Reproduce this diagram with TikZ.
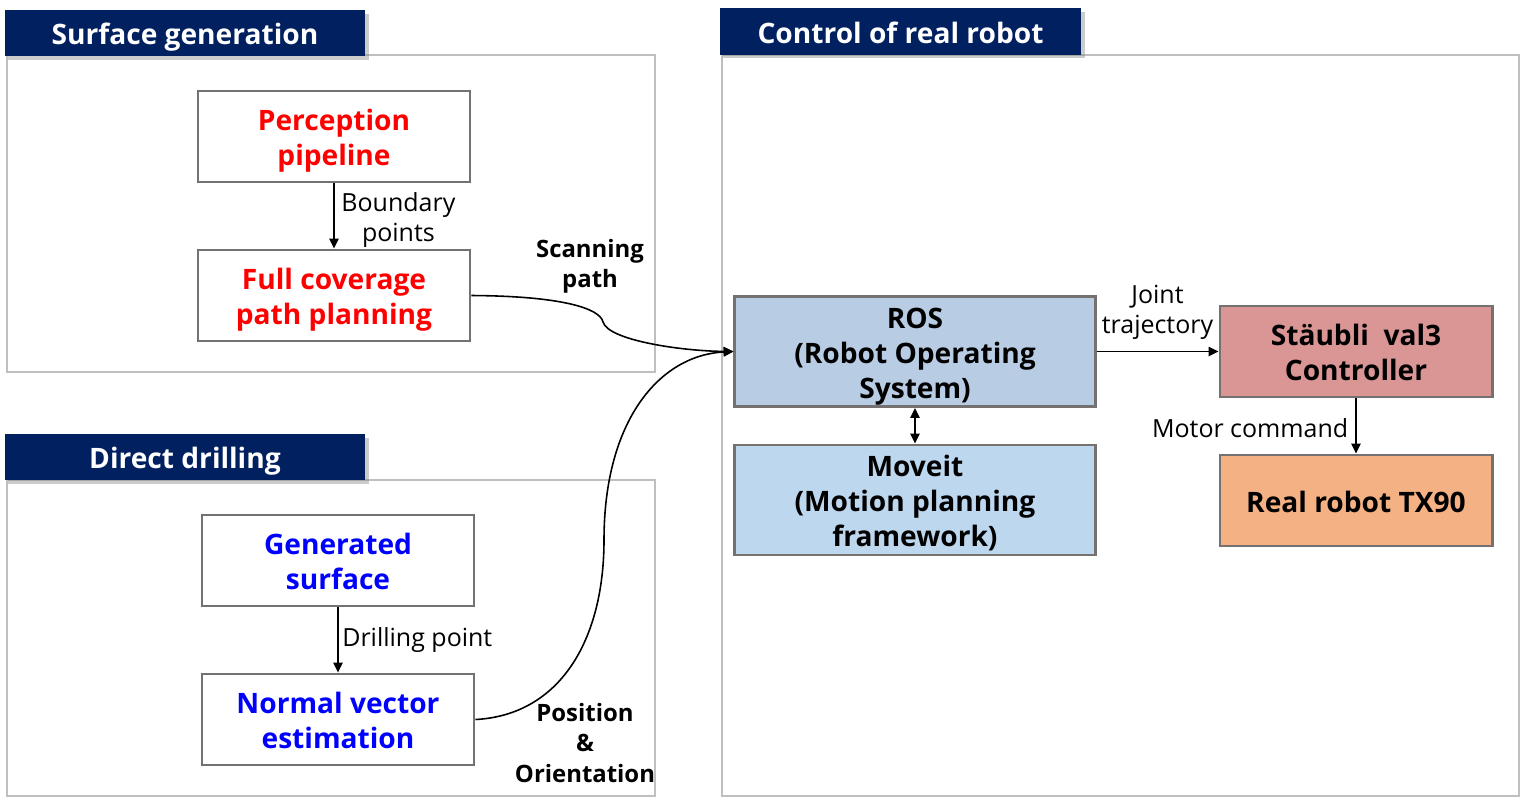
\documentclass[tikz,border=0pt]{standalone}
\usepackage{fontspec}
\setmainfont{Open Sans}
\usetikzlibrary{arrows.meta,shadows}

\definecolor{navy}{HTML}{002060}
\definecolor{framegray}{HTML}{BFBFBF}
\definecolor{boxgray}{HTML}{767171}
\definecolor{rosblue}{HTML}{B8CCE4}
\definecolor{moveitblue}{HTML}{BDD7EE}
\definecolor{ctrlred}{HTML}{DA9694}
\definecolor{robotorange}{HTML}{F4B183}

\tikzset{
  frame/.style={draw=framegray, line width=0.7pt},
  titlebox/.style={fill=navy, text=white, minimum width=3.6cm, minimum height=0.46cm,
    inner sep=0pt, text height=8.8pt, text depth=2pt, font=\bfseries\fontsize{8}{10}\selectfont,
    drop shadow={shadow xshift=1pt, shadow yshift=-1pt, opacity=0.4}},
  block/.style={draw=boxgray, line width=0.8pt, minimum width=2.72cm, minimum height=0.91cm,
    align=center, inner sep=1pt, text height=8.7pt, text depth=2pt,
    font=\bfseries\fontsize{8}{9.96}\selectfont},
  twoline/.style={text height=18.66pt},
  threeline/.style={text height=28.62pt},
  bigblock/.style={block, threeline, inner sep=0pt, minimum width=3.6cm, minimum height=1.1cm},
  lbl/.style={align=center, inner sep=2pt, font=\fontsize{7.1}{8.54}\selectfont},
  boldlbl/.style={lbl, font=\bfseries\fontsize{6.8}{8.54}\selectfont},
  arr/.style={-{Triangle[length=2.8pt,width=2.6pt]}, line width=0.45pt},
}

\begin{document}
\begin{tikzpicture}[x=0.01cm, y=-0.01cm]
        \useasboundingbox (0,0) rectangle (1521,802);

        % frames
        \draw[frame] (7,55) rectangle (655,372);
        \draw[frame] (7,480) rectangle (655,796);
        \draw[frame] (722,55) rectangle (1519,796);

        % titles
        \node[titlebox] (tsurf) at (185,33) {Surface generation};
        \node[titlebox] (tdrill) at (185,457) {Direct drilling};
        \node[titlebox, minimum width=3.61cm] (treal) at (900.5,31.5) {Control of real robot};

        % surface generation
        \node[block, twoline, text=red] (percep) at (334,136.5) {Perception\\pipeline};
        \node[block, twoline, text=red] (cover) at (334,295.5) {Full coverage\\path planning};
        \draw[arr] (percep) -- node[lbl, right, inner sep=1.9pt, yshift=-1.1pt] {Boundary\\points} (cover);

        % direct drilling
        \node[block, twoline, text=blue] (gensurf) at (338,560.5) {Generated\\surface};
        \node[block, twoline, text=blue] (normal) at (338,719.5) {Normal vector\\estimation};
        \draw[arr] (gensurf) -- node[lbl, right, inner sep=1pt] {Drilling point} (normal);

        % control of real robot
        \node[bigblock, fill=rosblue] (ros) at (915,351.5) {ROS\\(Robot Operating\\System)};
        \node[bigblock, fill=moveitblue] (moveit) at (915,500) {Moveit\\(Motion planning\\framework)};
        \node[block, twoline, fill=ctrlred] (staubli) at (1356,351.5) {Stäubli~~val3\\Controller};
        \node[block, fill=robotorange] (robot) at (1356,500.5) {Real robot TX90};
        \draw[{Triangle[length=2.8pt,width=2.6pt]}-{Triangle[length=2.8pt,width=2.6pt]}, line width=0.45pt] (ros) -- (moveit);
        \draw[arr] (ros) -- node[lbl, above, yshift=1.1pt] {Joint\\trajectory} (staubli);
        \draw[arr] (staubli) -- node[lbl, left, yshift=-0.5pt] {Motor command} (robot);

        % paths to ros
        \draw[arr] (cover.east) .. controls (560,296) and (600,308) .. (603,322)
          .. controls (608,340) and (680,351) .. (ros.west);
        \draw[arr] (normal.east) .. controls (560,715) and (604,640) .. (604,540)
          .. controls (604,420) and (660,355) .. (ros.west);
        \node[boldlbl] (scan) at (590,266) {Scanning\\path};
        \node[boldlbl] (posor) at (585,743) {Position\\\&\\Orientation};
    \end{tikzpicture}
\end{document}
